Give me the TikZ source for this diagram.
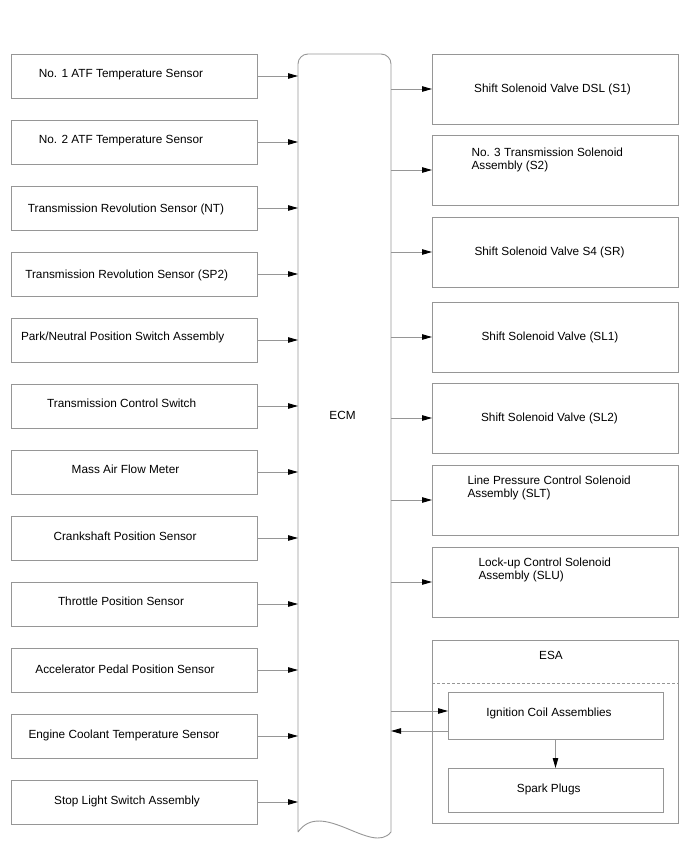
\documentclass[tikz,border=0pt]{standalone}
\usepackage{fontspec}
\setmainfont{Liberation Sans}
\usetikzlibrary{arrows.meta}
\definecolor{linegray}{RGB}{150,150,150}
\begin{document}
\begin{tikzpicture}[x=1pt,y=-1pt,
  every node/.style={inner sep=0pt, outer sep=0pt},
  lbox/.style={draw=linegray, line width=0.9pt, minimum width=246pt, minimum height=44pt},
  rbox/.style={draw=linegray, line width=0.9pt, minimum width=246pt, minimum height=70pt},
  txt/.style={anchor=base, font=\fontsize{11.8}{12.4}\selectfont},
  mtxt/.style={anchor=north west, align=left, font=\fontsize{11.8}{13}\selectfont},
  arr/.style={draw=linegray, line width=0.9pt, -{Triangle[length=10pt,width=5.5pt,color=black]}}
]
\useasboundingbox (0,0) rectangle (688,852);

% ECM
\node (ecm) at (344.5,443) [minimum width=93pt, minimum height=778pt] {};
\draw[linegray, line width=0.9pt] (298,832) -- (298,64) arc[start angle=180, end angle=270, radius=10] -- (381,54)
  arc[start angle=270, end angle=360, radius=10] -- (391,832)
  .. controls (372,856) and (322,798) .. (298,832);
\node[txt] (ecmt) at (342.5,419.3) {ECM};

% left boxes
\foreach \i/\cy/\tx/\ty/\t in {
 1/76/121/77.3/{No. 1 ATF Temperature Sensor},
 2/142/121/143.5/{No. 2 ATF Temperature Sensor},
 3/208/126/212.3/{Transmission Revolution Sensor (NT)},
 4/274/126.7/278.3/{Transmission Revolution Sensor (SP2)},
 5/340/122.7/340.7/{Park/Neutral Position Switch Assembly},
 6/406/121.7/407.3/{Transmission Control Switch},
 7/472/125.5/473.5/{Mass Air Flow Meter},
 8/538/125/540.5/{Crankshaft Position Sensor},
 9/604/121/605.5/{Throttle Position Sensor},
 10/670/125/673.3/{Accelerator Pedal Position Sensor},
 11/736/124/738.3/{Engine Coolant Temperature Sensor},
 12/802/127/804.5/{Stop Light Switch Assembly}}{
  \node[lbox] (L\i) at (134,\cy) {};
  \node[txt] (Lt\i) at (\tx,\ty) {\t};
  \draw[arr] (L\i.east) -- (ecm.west |- L\i.east);
}

% right boxes
\foreach \i/\cy in {1/89,2/170,3/252,4/337,5/418,6/500,7/582}{
  \node[rbox] (R\i) at (555,\cy) {};
  \draw[arr] (ecm.east |- R\i.west) -- (R\i.west);
}
\node[txt] (Rt1) at (552.5,92.5) {Shift Solenoid Valve DSL (S1)};
\node[mtxt] (Rt2) at (471.5,148) {No. 3 Transmission Solenoid\\Assembly (S2)};
\node[txt] (Rt3) at (549.5,255.5) {Shift Solenoid Valve S4 (SR)};
\node[txt] (Rt4) at (550,340.5) {Shift Solenoid Valve (SL1)};
\node[txt] (Rt5) at (549.5,421.5) {Shift Solenoid Valve (SL2)};
\node[mtxt] (Rt6) at (467.5,476) {Line Pressure Control Solenoid\\Assembly (SLT)};
\node[mtxt] (Rt7) at (478.5,558) {Lock-up Control Solenoid\\Assembly (SLU)};

% ESA
\node[draw=linegray, line width=0.9pt, minimum width=246pt, minimum height=183pt] (esa) at (555,731.5) {};
\node[txt] (esat) at (551,659.3) {ESA};
\coordinate (dl) at (432,683);
\coordinate (dr) at (678,683);
\draw[linegray, line width=0.9pt, dash pattern=on 3pt off 2pt] (dl) -- (dr);
\node[draw=linegray, line width=0.9pt, minimum width=215pt, minimum height=47pt] (ign) at (555.5,715.5) {};
\node[txt] (ignt) at (549,716) {Ignition Coil Assemblies};
\node[draw=linegray, line width=0.9pt, minimum width=215pt, minimum height=44pt] (spk) at (555.5,790) {};
\node[txt] (spkt) at (548.7,792.7) {Spark Plugs};
\coordinate (i1) at ([yshift=4.5pt]ign.west);
\coordinate (i2) at ([yshift=-15.5pt]ign.west);
\draw[arr] (ecm.east |- i1) -- (i1);
\draw[arr] (i2) -- (ecm.east |- i2);
\draw[arr] (ign.south) -- (spk.north);
\end{tikzpicture}
\end{document}
